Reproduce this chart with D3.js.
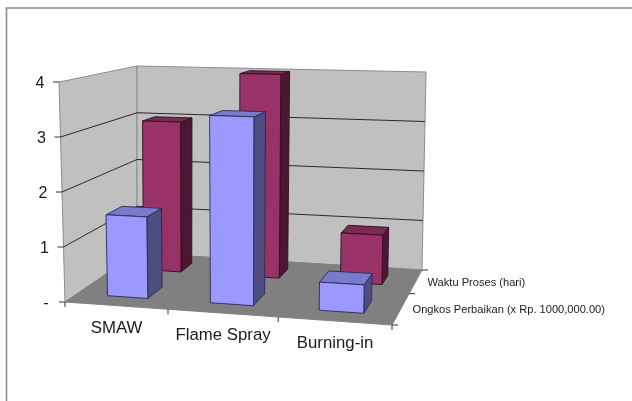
<!DOCTYPE html>
<html>
<head>
	<meta charset="utf-8">
	<title>Waktu Proses dan Ongkos Perbaikan</title>
	<style>
		html, body { margin: 0; padding: 0; background: #fff; }
		svg { display: block; }
		text { font-family: "Liberation Sans", Arial, sans-serif; fill: #1a1a1a; }
	</style>
</head>
<script src="https://d3js.org/d3.v7.min.js"></script>
<body>

<div id="viz"></div>

<script>

// chart data
var categories = ["SMAW", "Flame Spray", "Burning-in"];
var seriesNames = ["Ongkos Perbaikan (x Rp. 1000,000.00)", "Waktu Proses (hari)"];
var ongkos = [1.5, 3.4, 0.5];
var waktu = [3, 4, 0.95];
var valueTicks = [0, 1, 2, 3, 4];
var valueTickLabels = ["-", "1", "2", "3", "4"];

var width = 632, height = 401;

var svg = d3.select("#viz")
	.append("svg")
		.attr("width", width)
		.attr("height", height);

// blur, the reference is a scaled down screenshot
svg.append("filter")
		.attr("id", "soft")
		.attr("x", 0).attr("y", 0).attr("width", 1).attr("height", 1)
		.attr("filterUnits", "objectBoundingBox")
	.append("feGaussianBlur")
		.attr("stdDeviation", 0.7);

var root = svg.append("g").attr("filter", "url(#soft)");
root.append("rect").attr("width", width).attr("height", height).attr("fill", "#fff");

// outer chart frame, only top and left show
root.append("path")
	.attr("d", "M6.5," + height + "V8H" + width)
	.attr("fill", "none")
	.attr("stroke", "#8c8c8c")
	.attr("stroke-width", 1.6);

// The 3D box: scales go to 0..1 along each edge (perspective spacing in the
// piecewise ranges), then corners of the box place them on the screen
var xScale = d3.scaleLinear().domain([0, 1, 2, 3]).range([0, 0.315, 0.652, 1]);
var zScale = d3.scaleLinear().domain([0, 1, 2]).range([0, 0.57, 1]);
var yScale = d3.scaleLinear().domain([0, 4]).range([0, 1]);

var box = {
	frontLeft:  { bottom: [65, 302],  top: [59, 82] },
	frontRight: { bottom: [392, 325], top: [397, 90] },
	backLeft:   { bottom: [137, 253], top: [137, 66] },
	backRight:  { bottom: [422, 270], top: [426, 72] }
};

function mix(a, b, t) {
	return [a[0] + (b[0] - a[0]) * t, a[1] + (b[1] - a[1]) * t];
}

// x = category units, z = series units, v = value
function project(x, z, v) {
	var u = xScale(x), d = zScale(z), h = yScale(v);
	var bottom = mix(mix(box.frontLeft.bottom, box.frontRight.bottom, u), mix(box.backLeft.bottom, box.backRight.bottom, u), d);
	var top = mix(mix(box.frontLeft.top, box.frontRight.top, u), mix(box.backLeft.top, box.backRight.top, u), d);
	return mix(bottom, top, h);
}

var line = d3.line();
function poly(points) { return line(points) + "Z"; }

var xMax = categories.length, zMax = seriesNames.length, vMax = 4;

// left wall, back wall, floor
root.append("path")
	.attr("d", poly([project(0, 0, 0), project(0, 0, vMax), project(0, zMax, vMax), project(0, zMax, 0)]))
	.attr("fill", "#c0c0c0").attr("stroke", "#8c8c8c").attr("stroke-width", 1);
root.append("path")
	.attr("d", poly([project(0, zMax, 0), project(0, zMax, vMax), project(xMax, zMax, vMax), project(xMax, zMax, 0)]))
	.attr("fill", "#c0c0c0").attr("stroke", "#8c8c8c").attr("stroke-width", 1);
root.append("path")
	.attr("d", poly([project(0, 0, 0), project(0, zMax, 0), project(xMax, zMax, 0), project(xMax, 0, 0)]))
	.attr("fill", "#808080").attr("stroke", "#808080").attr("stroke-width", 1);

// gridlines on both walls
valueTicks.slice(1, -1).forEach(function(v) {
	root.append("path")
		.attr("d", line([project(0, 0, v), project(0, zMax, v), project(xMax, zMax, v)]))
		.attr("fill", "none")
		.attr("stroke", "#2a2a2a")
		.attr("stroke-width", 1);
});

// value axis
valueTicks.forEach(function(v, i) {
	var p = project(0, 0, v);
	root.append("path")
		.attr("d", line([p, [p[0] - 6, p[1]]]))
		.attr("stroke", "#333").attr("stroke-width", 1);
	root.append("text")
		.attr("x", p[0] - 19)
		.attr("y", p[1] + 5.5)
		.attr("text-anchor", "middle")
		.attr("font-size", 16)
		.text(valueTickLabels[i]);
});

// category axis
d3.range(xMax + 1).forEach(function(x) {
	var p = project(x, 0, 0);
	root.append("path")
		.attr("d", line([p, [p[0], p[1] + 5]]))
		.attr("stroke", "#333").attr("stroke-width", 1);
});
categories.forEach(function(name, i) {
	var p = project(i + 0.5, 0, 0);
	root.append("text")
		.attr("x", p[0])
		.attr("y", p[1] + 27)
		.attr("text-anchor", "middle")
		.attr("font-size", 16.8)
		.text(name);
});

// series axis
d3.range(zMax + 1).forEach(function(z) {
	var p = project(xMax, z, 0);
	root.append("path")
		.attr("d", line([p, [p[0] + 6, p[1]]]))
		.attr("stroke", "#333").attr("stroke-width", 1);
});
seriesNames.forEach(function(name, i) {
	var p = project(xMax, i + 0.5, 0);
	root.append("text")
		.attr("x", p[0] + 12)
		.attr("y", p[1] + 4)
		.attr("font-size", 11.1)
		.text(name);
});

// one box per value, back row first
function drawBar(x, z, v, colors) {
	var x0 = x + 0.3, x1 = x + 0.7, z0 = z + 0.3, z1 = z + 0.7;
	var g = root.append("g").attr("stroke", colors.edge).attr("stroke-width", 0.9).attr("stroke-linejoin", "round");
	g.append("path")
		.attr("d", poly([project(x1, z0, 0), project(x1, z0, v), project(x1, z1, v), project(x1, z1, 0)]))
		.attr("fill", colors.side);
	g.append("path")
		.attr("d", poly([project(x0, z0, v), project(x0, z1, v), project(x1, z1, v), project(x1, z0, v)]))
		.attr("fill", colors.top);
	g.append("path")
		.attr("d", poly([project(x0, z0, 0), project(x0, z0, v), project(x1, z0, v), project(x1, z0, 0)]))
		.attr("fill", colors.front);
}

var red = { front: "#993366", side: "#4d1933", top: "#7a2952", edge: "#2e1020" };
var blue = { front: "#9999ff", side: "#4d4d80", top: "#7a7acc", edge: "#2a2a55" };

waktu.forEach(function(v, i) { drawBar(i, 1, v, red); });
ongkos.forEach(function(v, i) { drawBar(i, 0, v, blue); });

</script>

</body>
</html>
